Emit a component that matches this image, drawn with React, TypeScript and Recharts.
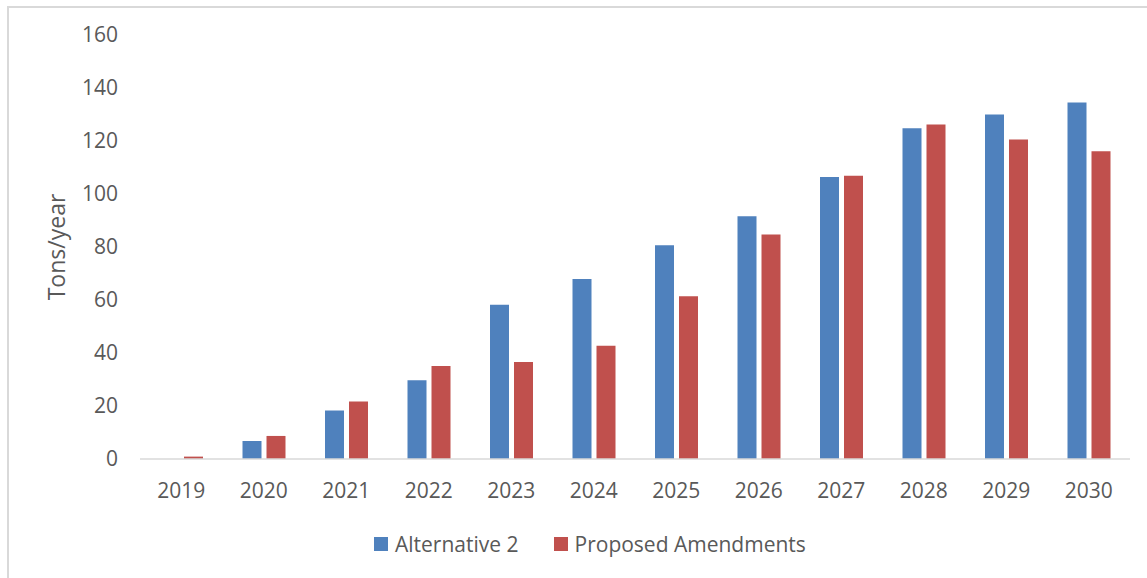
import React from 'react';
import { BarChart, Bar, XAxis, YAxis, Legend } from 'recharts';

const years = ['2019', '2020', '2021', '2022', '2023', '2024', '2025', '2026', '2027', '2028', '2029', '2030'];
const alternative2 = [0, 6.8, 18.3, 29.7, 58.2, 67.9, 80.7, 91.6, 106.4, 124.8, 130.0, 134.5];
const proposedAmendments = [0.9, 8.7, 21.7, 35.1, 36.6, 42.7, 61.4, 84.7, 106.9, 126.2, 120.6, 116.1];
const yTicks = [0, 20, 40, 60, 80, 100, 120, 140, 160];

const data = years.map((y, i) => ({ year: y, alt2: alternative2[i], prop: proposedAmendments[i] }));

const FONT = '"Open Sans", sans-serif';
const TEXT = '#595959';

const renderLegend = (props: any) => {
  const { payload } = props;
  return (
    <div style={{ display: 'flex', alignItems: 'center', fontFamily: FONT, fontSize: 21, color: TEXT, lineHeight: '28px', whiteSpace: 'nowrap' }}>
      {payload.map((entry: any, i: number) => (
        <div key={i} style={{ display: 'flex', alignItems: 'center', marginRight: 35 }}>
          <span style={{ display: 'inline-block', width: 14, height: 14, background: entry.color, marginRight: 7 }} />
          <span>{entry.value}</span>
        </div>
      ))}
    </div>
  );
};

export default function App() {
  return (
    <div style={{ position: 'absolute', left: 7, top: 6, width: 1140, height: 572, borderTop: '2px solid #d9d9d9', borderLeft: '2px solid #d9d9d9', background: '#fff' }}>
      <BarChart
        width={1138}
        height={570}
        data={data}
        margin={{ top: 27, right: 17, left: 0, bottom: 69 }}
        barSize={19}
        barGap={5}
      >
        <XAxis
          dataKey="year"
          height={50}
          tickLine={false}
          tickSize={0}
          tickMargin={24}
          axisLine={{ stroke: '#d9d9d9', strokeWidth: 1.5 }}
          tick={{ fill: TEXT, fontSize: 21, fontFamily: FONT }}
        />
        <YAxis
          width={131}
          domain={[0, 160]}
          ticks={yTicks}
          axisLine={false}
          tickLine={false}
          tickSize={0}
          tickMargin={22}
          tick={{ fill: TEXT, fontSize: 21, fontFamily: FONT }}
          label={{ value: 'Tons/year', angle: -90, position: 'center', dx: -18, fill: TEXT, fontSize: 23, fontFamily: FONT }}
        />
        <Legend
          verticalAlign="middle"
          align="center"
          content={renderLegend}
          wrapperStyle={{ left: 365, top: 522, width: 'auto' }}
        />
        <Bar dataKey="alt2" name="Alternative 2" fill="#4F81BD" isAnimationActive={false} />
        <Bar dataKey="prop" name="Proposed Amendments" fill="#C0504D" isAnimationActive={false} />
      </BarChart>
    </div>
  );
}
